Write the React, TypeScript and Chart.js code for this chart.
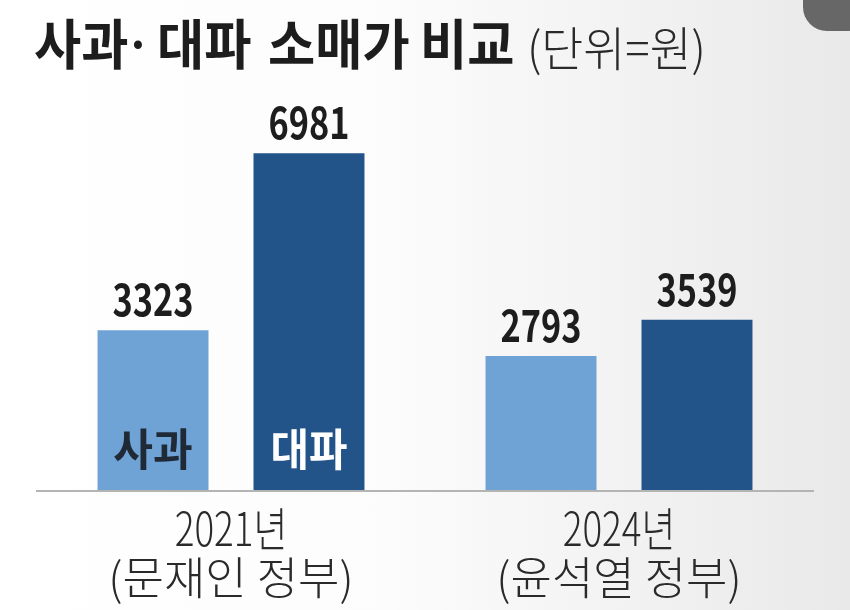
import React, { useEffect, useRef } from "react";
import { Chart, registerables } from "chart.js";

Chart.register(...registerables);

const TITLE_WORDS = ["사과", "·", "대파", "소매가", "비교"];
const UNIT = "(단위=원)";
const CATEGORY_LINE1 = ["2021년", "2024년"];
const CATEGORY_LINE2 = ["(문재인 정부)", "(윤석열 정부)"];
const SERIES_NAMES = ["사과", "대파"];
const APPLE = [3323, 2793];
const GREEN_ONION = [6981, 3539];

const LIGHT = "#6fa3d6";
const DARK = "#22548a";
const KFONT = "'Noto Sans CJK KR', 'Noto Sans', sans-serif";
const TITLE_X = [34, 138, 157, 268, 420];

function drawText(
  ctx: CanvasRenderingContext2D,
  text: string,
  x: number,
  y: number,
  font: string,
  color: string,
  sx: number,
  align: CanvasTextAlign = "center",
  baseline: CanvasTextBaseline = "middle"
) {
  ctx.save();
  ctx.translate(x, y);
  ctx.scale(sx, 1);
  ctx.font = font;
  ctx.fillStyle = color;
  ctx.textAlign = align;
  ctx.textBaseline = baseline;
  ctx.fillText(text, 0, 0);
  ctx.restore();
}

const labelPlugin = {
  id: "labelPlugin",
  afterDraw(chart: any) {
    const ctx = chart.ctx as CanvasRenderingContext2D;
    // title
    const tf = `bold 54px ${KFONT}`;
    TITLE_WORDS.forEach((w, i) => {
      if (w === "·") drawText(ctx, w, TITLE_X[i], 44, `bold 44px ${KFONT}`, "#1d1d1d", 1, "center");
      else drawText(ctx, w, TITLE_X[i], 44, tf, "#1d1d1d", 0.95, "left");
    });
    drawText(ctx, UNIT, 527, 48, `300 47px ${KFONT}`, "#2a2a2a", 0.97, "left");

    // values above bars + names inside first group
    chart.data.datasets.forEach((ds: any, di: number) => {
      const meta = chart.getDatasetMeta(di);
      meta.data.forEach((bar: any, i: number) => {
        const v = ds.data[i];
        drawText(ctx, String(v), bar.x, bar.y - 14, `bold 44px ${KFONT}`, "#1d1d1d", 0.78, "center", "alphabetic");
        if (i === 0) {
          drawText(
            ctx,
            SERIES_NAMES[di],
            bar.x,
            bar.base - 42,
            `bold 44px ${KFONT}`,
            di === 0 ? "#1f2a36" : "#ffffff",
            di === 0 ? 0.98 : 0.95
          );
        }
      });
    });

    // category labels
    const xs = chart.scales.x;
    CATEGORY_LINE1.forEach((_, i) => {
      const x = xs.getPixelForValue(i);
      drawText(ctx, CATEGORY_LINE1[i], x, 529, `300 46px ${KFONT}`, "#2a2a2a", 0.8);
      drawText(ctx, CATEGORY_LINE2[i], x, 578, `300 45px ${KFONT}`, "#2a2a2a", 1.0);
    });
  },
};

export default function App() {
  const ref = useRef<HTMLCanvasElement | null>(null);
  useEffect(() => {
    if (!ref.current) return;
    const chart = new Chart(ref.current, {
      type: "bar",
      data: {
        labels: CATEGORY_LINE1,
        datasets: [
          {
            label: SERIES_NAMES[0],
            data: APPLE,
            backgroundColor: LIGHT,
            categoryPercentage: 0.804,
            barPercentage: 0.7115,
          },
          {
            label: SERIES_NAMES[1],
            data: GREEN_ONION,
            backgroundColor: DARK,
            categoryPercentage: 0.804,
            barPercentage: 0.7115,
          },
        ],
      },
      options: {
        responsive: false,
        animation: false,
        layout: { padding: { top: 104, left: 37, right: 37, bottom: 119 } },
        plugins: { legend: { display: false }, tooltip: { enabled: false }, title: { display: false } },
        scales: {
          x: {
            grid: { display: false, drawTicks: false },
            ticks: { display: false },
            border: { display: true, color: "#b4b4b4", width: 2, z: 1 },
          },
          y: { display: false, min: 0, max: 8000 },
        },
      },
      plugins: [labelPlugin],
    });
    return () => chart.destroy();
  }, []);
  return (
    <div
      style={{
        position: "fixed",
        left: 0,
        top: 0,
        width: 850,
        height: 610,
        overflow: "hidden",
        background: "linear-gradient(to right, #ffffff 0%, #fcfcfc 45%, #e9e9e9 100%)",
      }}
    >
      <canvas ref={ref} width={850} height={610} style={{ position: "absolute", left: 0, top: 0 }} />
      <div
        style={{
          position: "absolute",
          left: 803,
          top: -25,
          width: 70,
          height: 56,
          borderRadius: 24,
          background: "#676767",
        }}
      />
    </div>
  );
}
